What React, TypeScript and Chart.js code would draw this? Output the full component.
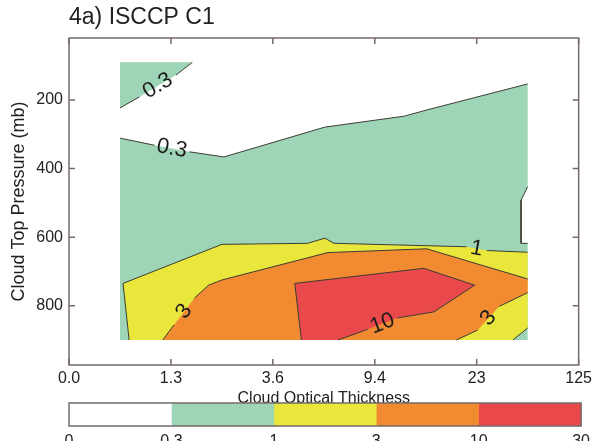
import React, { useEffect, useRef } from "react";
import { Chart, registerables } from "chart.js";

Chart.register(...registerables);

// ---------- data ----------
const titleText = "4a) ISCCP C1";
const xTitle = "Cloud Optical Thickness";
const yTitle = "Cloud Top Pressure (mb)";
const xTickValues = [0, 1, 2, 3, 4, 5];
const xTickLabels = ["0.0", "1.3", "3.6", "9.4", "23", "125"];
const yTickValues = [200, 400, 600, 800];
const colorLevels = ["0", "0.3", "1", "3", "10", "30"];
const bandColors = ["#ffffff", "#9fd5b7", "#e9e63c", "#f18a30", "#e9494a"];

// data domain: optical-thickness bin index and pressure (mb)
const xDomain = [0.5, 4.5];
const pDomain = [90, 900];

// contour lines [tau index, pressure]; null = gap where the level label sits
const line03Top = [[0.5, 223], [0.69, 191], null, [1.05, 127], [1.21, 90]];
const line03Main = [[0.5, 311], [0.84, 332], null, [1.18, 351], [1.52, 366], [2.51, 279], [3.29, 247], [3.51, 229], [4.5, 153]];
const line03Notch = [[4.5, 453], [4.435, 492], [4.435, 618], [4.5, 618]];
const line1Main = [[0.59, 900], [0.53, 735], [1.5, 621], [2.34, 618], [2.51, 603], [2.6, 618], [3.9, 628], null, [4.1, 639], [4.5, 644]];
const line1Corner = [[4.5, 865], [4.355, 900]];
const line3Main = [[0.92, 900], [1.03, 856], null, [1.23, 778], [1.37, 740], [1.5, 725], [2.54, 645], [3.51, 634], [4.5, 722]];
const line3Right = [[4.5, 762], [4.22, 802], null, [4.01, 871], [3.8, 900]];
const line10 = [[2.28, 900], [2.215, 735], [3.48, 691], [3.98, 740], [3.58, 818], [3.22, 836], null, [2.93, 869], [2.64, 900]];

const contourLines = [line03Top, line03Main, line03Notch, line1Main, line1Corner, line3Main, line3Right, line10];
const contourLevels = ["0.3", "0.3", "0.3", "1", "1", "3", "3", "10"];

// ---------- helpers ----------
const FONT = "'Liberation Sans', Arial, Helvetica, sans-serif";
const TEXT = "#222222";
const FRAME = "#75696565";

const pts = (line: any[]) => line.filter((p) => p !== null);
const toXY = (arr: any[]) => arr.map((p, i) => (p === null ? { x: arr[i - 1][0], y: null } : { x: p[0], y: p[1] }));

const fillPolys = [
  { poly: [[xDomain[0], pDomain[0]], ...pts(line03Top)], color: bandColors[1], order: 60 },
  { poly: [[xDomain[0], pDomain[1]], ...pts(line03Main), ...pts(line03Notch), [xDomain[1], pDomain[1]]], color: bandColors[1], order: 50 },
  { poly: [...pts(line1Main), ...pts(line1Corner)], color: bandColors[2], order: 40 },
  { poly: [...pts(line3Main), ...pts(line3Right)], color: bandColors[3], order: 30 },
  { poly: pts(line10), color: bandColors[4], order: 20 },
];

const framePlugin = {
  id: "frame",
  afterDraw(chart: any) {
    const { ctx, chartArea: a } = chart;
    const opts = chart.options.plugins.frame || {};
    ctx.save();
    ctx.strokeStyle = "#75696a";
    ctx.lineWidth = 1.5;
    ctx.strokeRect(a.left, a.top, a.right - a.left, a.bottom - a.top);
    if (opts.ticks) {
      const x = chart.scales.x;
      const y = chart.scales.y;
      const len = 6;
      ctx.beginPath();
      x.ticks.forEach((t: any) => {
        const px = x.getPixelForValue(t.value);
        ctx.moveTo(px, a.bottom);
        ctx.lineTo(px, a.bottom - len);
        ctx.moveTo(px, a.top);
        ctx.lineTo(px, a.top + len);
      });
      y.ticks.forEach((t: any) => {
        const py = y.getPixelForValue(t.value);
        ctx.moveTo(a.left, py);
        ctx.lineTo(a.left + len, py);
        ctx.moveTo(a.right, py);
        ctx.lineTo(a.right - len, py);
      });
      ctx.stroke();
    }
    ctx.restore();
  },
};

const labelPlugin = {
  id: "contourLabels",
  afterDatasetsDraw(chart: any) {
    const { ctx } = chart;
    const x = chart.scales.x;
    const y = chart.scales.y;
    ctx.save();
    ctx.font = `22px ${FONT}`;
    ctx.fillStyle = "#1c1c1c";
    ctx.textAlign = "center";
    ctx.textBaseline = "middle";
    contourLines.forEach((line, li) => {
      for (let i = 1; i < line.length - 1; i++) {
        if (line[i] !== null) continue;
        const a = line[i - 1] as number[];
        const b = line[i + 1] as number[];
        const ax = x.getPixelForValue(a[0]);
        const ay = y.getPixelForValue(a[1]);
        const bx = x.getPixelForValue(b[0]);
        const by = y.getPixelForValue(b[1]);
        let ang = Math.atan2(by - ay, bx - ax);
        if (ang > Math.PI / 2) ang -= Math.PI;
        if (ang < -Math.PI / 2) ang += Math.PI;
        ctx.save();
        ctx.translate((ax + bx) / 2, (ay + by) / 2);
        ctx.rotate(ang);
        ctx.fillText(contourLevels[li], 0, 0);
        ctx.restore();
      }
    });
    ctx.restore();
  },
};

export default function App() {
  const mainRef = useRef<HTMLCanvasElement>(null);
  const barRef = useRef<HTMLCanvasElement>(null);

  useEffect(() => {
    const datasets: any[] = [];
    fillPolys.forEach((f) => {
      datasets.push({
        data: toXY(f.poly),
        fill: "shape",
        backgroundColor: f.color,
        borderColor: "rgba(0,0,0,0)",
        borderWidth: 0,
        pointRadius: 0,
        tension: 0,
        order: f.order,
      });
    });
    contourLines.forEach((line) => {
      datasets.push({
        data: toXY(line),
        fill: false,
        borderColor: "#3c3c34",
        borderWidth: 1,
        pointRadius: 0,
        tension: 0,
        spanGaps: false,
        order: 1,
      });
    });

    const main = new Chart(mainRef.current as HTMLCanvasElement, {
      type: "line",
      data: { datasets },
      plugins: [framePlugin, labelPlugin],
      options: {
        animation: false,
        responsive: false,
        maintainAspectRatio: false,
        events: [],
        layout: { padding: { left: 0, right: 13, top: 0, bottom: 31 } },
        plugins: {
          legend: { display: false },
          tooltip: { enabled: false },
          frame: { ticks: true },
          title: {
            display: true,
            text: titleText,
            align: "start",
            fullSize: false,
            color: TEXT,
            font: { size: 23, family: FONT, weight: "normal" },
            padding: { top: 4, bottom: 6.4 },
          },
        } as any,
        scales: {
          x: {
            type: "linear",
            min: 0,
            max: 5,
            afterBuildTicks: (s: any) => {
              s.ticks = xTickValues.map((v) => ({ value: v }));
            },
            afterFit: (s: any) => {
              s.height = 45;
            },
            ticks: {
              callback: (v: any) => xTickLabels[xTickValues.indexOf(Number(v))],
              color: TEXT,
              font: { size: 16, family: FONT },
              padding: 4,
              maxRotation: 0,
              autoSkip: false,
            },
            grid: { display: false, drawTicks: false },
            border: { display: false },
            title: {
              display: true,
              text: xTitle,
              color: TEXT,
              font: { size: 16, family: FONT },
              padding: { top: 0, bottom: 2 },
            },
          },
          y: {
            type: "linear",
            reverse: true,
            min: 19,
            max: 973,
            afterBuildTicks: (s: any) => {
              s.ticks = yTickValues.map((v) => ({ value: v }));
            },
            afterFit: (s: any) => {
              s.width = 69;
            },
            ticks: {
              callback: (v: any) => String(v),
              color: TEXT,
              font: { size: 16, family: FONT },
              padding: 6,
              autoSkip: false,
            },
            grid: { display: false, drawTicks: false },
            border: { display: false },
            title: {
              display: true,
              text: yTitle,
              color: TEXT,
              font: { size: 18, family: FONT },
              padding: { top: 8, bottom: 0 },
            },
          },
        },
      } as any,
    });

    const bar = new Chart(barRef.current as HTMLCanvasElement, {
      type: "bar",
      data: {
        labels: [""],
        datasets: bandColors.map((c) => ({
          data: [1],
          backgroundColor: c,
          borderWidth: 0,
          barPercentage: 1,
          categoryPercentage: 1,
        })),
      },
      plugins: [framePlugin],
      options: {
        indexAxis: "y",
        animation: false,
        responsive: false,
        maintainAspectRatio: false,
        events: [],
        layout: { padding: { left: 69, right: 13, top: 13, bottom: 14 } },
        plugins: {
          legend: { display: false },
          tooltip: { enabled: false },
          frame: { ticks: false },
        } as any,
        scales: {
          x: {
            type: "linear",
            stacked: true,
            min: 0,
            max: 5,
            afterBuildTicks: (s: any) => {
              s.ticks = colorLevels.map((_, i) => ({ value: i }));
            },
            afterFit: (s: any) => {
              s.height = 30;
            },
            ticks: {
              callback: (v: any) => colorLevels[Number(v)],
              color: TEXT,
              font: { size: 16, family: FONT },
              padding: 6,
              maxRotation: 0,
              autoSkip: false,
            },
            grid: { display: false, drawTicks: false },
            border: { display: false },
          },
          y: { stacked: true, display: false },
        },
      } as any,
    });

    return () => {
      main.destroy();
      bar.destroy();
    };
  }, []);

  return (
    <div style={{ position: "fixed", left: 0, top: 0, width: 596, height: 441, overflow: "hidden", background: "#fff" }}>
      <canvas ref={mainRef} width={596} height={441} style={{ position: "absolute", left: 0, top: 0 }} />
      <canvas ref={barRef} width={596} height={80} style={{ position: "absolute", left: 0, top: 390 }} />
    </div>
  );
}
